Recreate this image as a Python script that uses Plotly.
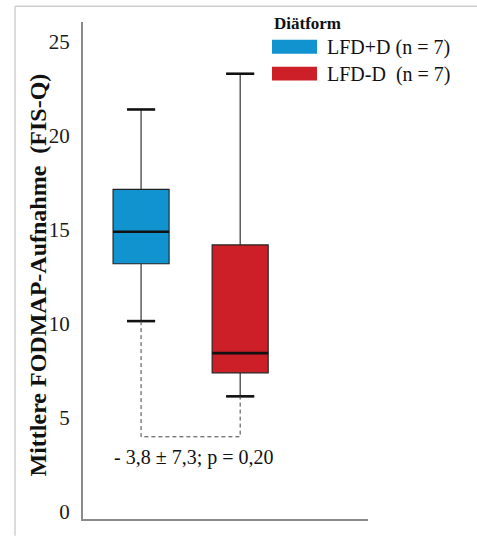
import plotly.graph_objects as go

# ---- data ----
groups = ["LFD+D (n = 7)", "LFD-D\u00a0 (n = 7)"]
positions = [1, 2]
q1 = [13.2, 7.4]
median = [14.9, 8.45]
q3 = [17.15, 14.2]
lower_whisker = [10.15, 6.15]
upper_whisker = [21.4, 23.3]
colors = ["#1193cf", "#cc1f27"]
legend_title = "Diätform"
y_title = "Mittlere FODMAP-Aufnahme\u00a0 (FIS-Q)"
y_ticks = [0, 5, 10, 15, 20, 25]
bracket_level = 4.0
stat_text = "- 3,8 ± 7,3; p = 0,20"

FONT = "Liberation Serif"
box_w = 0.566
cap_w = 0.283

fig = go.Figure()
for i in range(len(groups)):
    fig.add_trace(go.Box(
        x=[positions[i]], q1=[q1[i]], median=[median[i]], q3=[q3[i]],
        lowerfence=[lower_whisker[i]], upperfence=[upper_whisker[i]],
        width=box_w, whiskerwidth=0.5, fillcolor=colors[i],
        line=dict(color="#222222", width=1.1), name=groups[i],
        showlegend=False, hoverinfo="skip"))
    p = positions[i]
    # thick median
    fig.add_trace(go.Scatter(x=[p - box_w / 2, p + box_w / 2], y=[median[i]] * 2,
                             mode="lines", line=dict(color="#111111", width=2.6),
                             showlegend=False, hoverinfo="skip"))
    # thick caps
    for v in (lower_whisker[i], upper_whisker[i]):
        fig.add_trace(go.Scatter(x=[p - cap_w / 2, p + cap_w / 2], y=[v, v],
                                 mode="lines", line=dict(color="#111111", width=2.6),
                                 showlegend=False, hoverinfo="skip"))

# dashed comparison bracket
fig.add_trace(go.Scatter(
    x=[positions[0], positions[0], positions[1], positions[1]],
    y=[lower_whisker[0], bracket_level, bracket_level, lower_whisker[1]],
    mode="lines", line=dict(color="#444444", width=1, dash="4px,3px"),
    showlegend=False, hoverinfo="skip"))

# plot area: x 83..368, y 22..523 px
L, R, T, B = 83, 109, 22, 13
PW, PH = 477 - L - R, 536 - T - B

def px(xp):
    return (xp - L) / PW

def py(yp):
    return (536 - B - yp) / PH

annotations = [
    dict(x=(positions[0] + positions[1]) / 2 + 0.025, y=bracket_level - 1.1, xref="x", yref="y",
         text=stat_text, showarrow=False, font=dict(family=FONT, size=20, color="#111111"),
         xanchor="center", yanchor="middle"),
    dict(x=px(38), y=0.49, xref="paper", yref="paper", text="<b>" + y_title + "</b>",
         textangle=-90, showarrow=False, font=dict(family=FONT, size=24, color="#111111"),
         xanchor="center", yanchor="middle"),
    dict(x=px(272), y=py(24), xref="paper", yref="paper", text="<b>" + legend_title + "</b>",
         showarrow=False, font=dict(family=FONT, size=17, color="#111111"),
         xanchor="left", yanchor="middle"),
]
shapes = [
    # outer frame (top and left)
    dict(type="line", xref="paper", yref="paper", x0=px(15), x1=px(477), y0=py(6), y1=py(6),
         line=dict(color="#cfcfcf", width=1.5)),
    dict(type="line", xref="paper", yref="paper", x0=px(15), x1=px(15), y0=py(6), y1=py(540),
         line=dict(color="#cfcfcf", width=1.5)),
]
leg_rows = [47, 74]
for i in range(len(groups)):
    yc = leg_rows[i]
    shapes.append(dict(type="rect", xref="paper", yref="paper",
                       x0=px(272), x1=px(317), y0=py(yc - 7), y1=py(yc + 7),
                       fillcolor=colors[i], line=dict(width=0)))
    annotations.append(dict(x=px(325), y=py(yc + 1), xref="paper", yref="paper", text=groups[i],
                            showarrow=False, font=dict(family=FONT, size=20, color="#111111"),
                            xanchor="left", yanchor="middle"))

fig.update_layout(
    width=477, height=536,
    margin=dict(l=L, r=R, t=T, b=B, pad=0),
    paper_bgcolor="white", plot_bgcolor="white",
    showlegend=False,
    font=dict(family=FONT, color="#222222"),
    xaxis=dict(range=[0.414, 3.29], showticklabels=False, showgrid=False, zeroline=False,
               showline=True, linecolor="#8a8a8a", linewidth=2, ticks=""),
    yaxis=dict(range=[-0.37, 26.05], tickvals=y_ticks, showgrid=False, zeroline=False,
               showline=True, linecolor="#8a8a8a", linewidth=2, ticks="",
               ticklabelstandoff=7,
               tickfont=dict(family=FONT, size=21, color="#1a1a1a")),
    annotations=annotations, shapes=shapes,
)

fig.write_html("out.html", config={"displayModeBar": False},
               post_script="document.body.style.margin='0';document.body.style.overflow='hidden';")
